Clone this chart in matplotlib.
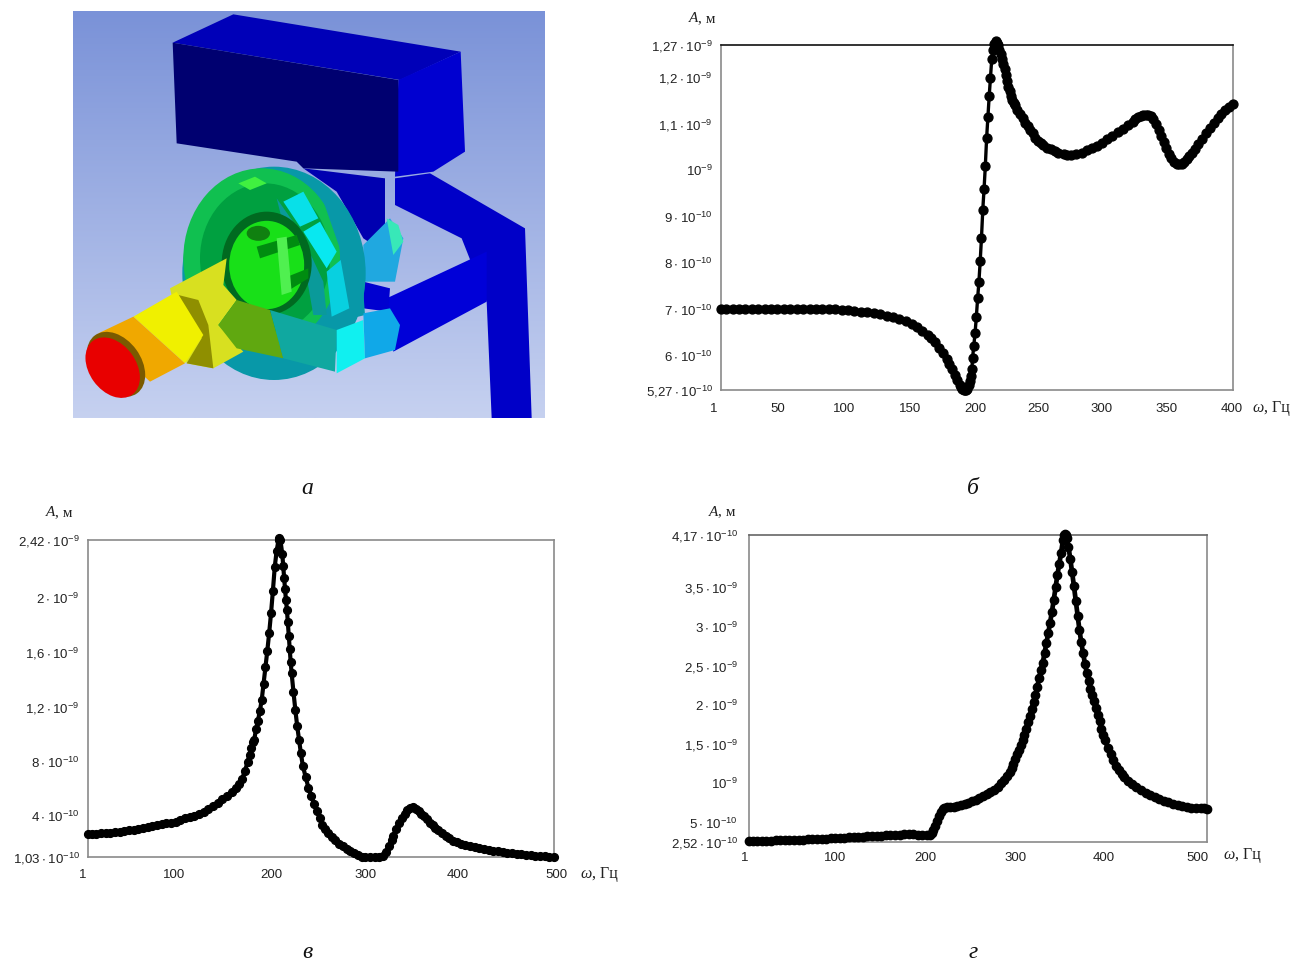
import numpy as np
import matplotlib
matplotlib.use("Agg")
import matplotlib.pyplot as plt
from matplotlib.patches import Polygon, Ellipse
from matplotlib.transforms import ScaledTranslation

plt.rcParams['font.family'] = ['Liberation Sans', 'DejaVu Sans']
plt.rcParams['mathtext.fontset'] = 'custom'
plt.rcParams['mathtext.rm'] = 'Liberation Sans'
plt.rcParams['mathtext.default'] = 'regular'

W, H = 1292, 961

# amplitude in units of 1e-10 m, frequency in Hz
x_b = [1,5,10,15,20,25,30,35,40,45,50,55,60,65,70,75,80,85,90,95,100,105,110,115,120,125,130,135,140,145,150,
       154,158,162,165,168,171,174,177,179,181,183,185,187,188,189,190,191,192,193,194,195,195.8,196.5,197,198,199,200,
       201,202,203,204,205,206,207,208,209,210,211,212,213,214,215,216,217,218,219,220,221,222,223,224,225,226,227,228,229,230,232,234,236,238,240,242,244,246,248,250,252,
       255,258,261,264,268,271,274,278,282,286,290,294,298,302,306,310,314,318,322,324,326,328,330,332,
       334,336,338,340,342,344,346,348,350,352,354,356,358,360,362,364,366,368,370,373,376,379,382,385,388,391,394,397,400]
y_b = [7.02,7.02,7.02,7.02,7.02,7.02,7.02,7.02,7.02,7.02,7.02,7.02,7.02,7.02,7.02,7.02,7.02,7.01,7.01,7.0,6.99,6.98,6.96,6.94,6.92,6.9,6.87,6.84,6.8,6.75,6.7,
       6.63,6.55,6.46,6.38,6.3,6.18,6.06,5.93,5.83,5.72,5.6,5.48,5.37,5.33,5.29,5.27,5.27,5.27,5.3,5.37,5.46,5.57,5.72,5.95,6.22,6.5,6.85,
       7.25,7.6,8.05,8.55,9.15,9.6,10.1,10.7,11.15,11.6,12.0,12.4,12.6,12.72,12.78,12.75,12.7,12.6,12.5,12.4,12.3,12.18,12.05,11.92,11.8,11.7,11.6,11.52,11.46,11.4,11.3,11.22,11.12,11.03,10.95,10.88,10.8,10.7,10.64,10.58,10.54,
       10.49,10.45,10.41,10.38,10.35,10.34,10.34,10.35,10.38,10.43,10.48,10.53,10.6,10.67,10.74,10.82,10.9,10.98,11.05,11.1,11.14,11.17,11.19,11.2,
       11.2,11.17,11.1,11.0,10.88,10.75,10.62,10.48,10.36,10.26,10.18,10.14,10.13,10.14,10.18,10.24,10.3,10.38,10.46,10.57,10.68,10.8,10.91,11.02,11.13,11.22,11.3,11.36,11.42]

x_v = [1,5,10,15,20,25,30,35,40,45,50,55,60,65,70,75,80,85,90,95,100,105,110,115,120,125,130,135,140,145,150,155,160,163,166,169,172,174,176,178,
       179,181,183,185,187,189,191,193,195,197,199,201,203,205,206,207,209,210,211,212,213,214,215,216,217,218,219,221,223,225,227,229,231,234,237,240,
       243,246,249,252,255,258,262,266,270,274,278,282,286,290,294,298,303,308,313,317,320,323,326,328,331,334,337,340,343,346,349,352,355,358,361,364,
       367,370,373,376,380,384,388,392,396,400,405,410,415,420,425,430,435,440,445,450,455,460,465,470,475,480,485,490,495,500]
y_v = [2.7,2.72,2.73,2.75,2.78,2.8,2.83,2.87,2.92,2.97,3.03,3.1,3.16,3.23,3.3,3.38,3.46,3.5,3.55,3.62,3.75,3.85,3.95,4.05,4.2,4.35,4.55,4.75,5.0,5.25,5.5,5.8,6.1,6.35,6.75,7.3,8.0,8.5,9.0,9.4,
       9.6,10.4,11.0,11.7,12.5,13.7,14.9,16.1,17.4,18.85,20.5,22.25,23.4,24.2,24.35,24.2,23.2,22.3,21.4,20.6,19.8,19.1,18.2,17.2,16.2,15.3,14.5,13.1,11.8,10.6,9.6,8.6,7.7,6.9,6.1,5.5,
       4.9,4.4,3.9,3.4,3.1,2.8,2.5,2.25,2.0,1.8,1.6,1.45,1.3,1.15,1.05,1.03,1.03,1.03,1.04,1.08,1.4,1.8,2.3,2.6,3.1,3.5,3.9,4.2,4.45,4.6,4.65,4.55,4.4,4.2,4.0,3.8,
       3.55,3.35,3.15,3.0,2.8,2.6,2.4,2.2,2.1,2.0,1.9,1.8,1.75,1.68,1.62,1.56,1.5,1.45,1.4,1.35,1.3,1.26,1.22,1.18,1.14,1.12,1.1,1.08,1.06,1.03]

x_g = [1,5,10,15,20,25,30,35,40,45,50,55,60,65,70,75,80,85,90,95,100,105,110,115,120,125,130,135,140,145,150,155,160,165,170,175,180,185,190,195,198,200,202,204,206,208,210,212,214,217,
       220,224,228,232,236,240,244,248,252,256,260,264,268,272,276,279,282,285,287,289,291,293,295,297,299,301,303,305,307,309,311,313,315,317,319,321,323,325,327,329,331,333,335,337,339,341,343,344,345,346,347,
       349,351,353,355,357,359,361,363,365,367,369,371,373,375,377,379,381,383,385,387,389,392,395,398,401,404,407,410,414,418,423,428,433,438,443,448,453,458,463,468,473,478,483,488,493,497,500]
y_g = [2.65,2.66,2.67,2.68,2.7,2.71,2.72,2.74,2.75,2.76,2.77,2.8,2.82,2.85,2.88,2.9,2.92,2.95,2.98,3.0,3.05,3.08,3.1,3.13,3.16,3.2,3.23,3.26,3.3,3.33,3.36,3.4,3.43,3.46,3.5,3.5,3.5,3.45,3.4,3.4,3.45,3.7,4.1,4.6,5.2,5.8,6.3,6.7,6.85,6.95,
       7.0,7.05,7.1,7.2,7.35,7.5,7.7,7.9,8.1,8.35,8.6,8.9,9.2,9.6,10.0,10.4,10.9,11.5,12.0,12.5,13.1,13.7,14.3,14.9,15.6,16.2,16.9,17.8,18.6,19.5,20.4,21.3,22.3,23.4,24.5,25.4,26.6,27.9,29.2,30.5,31.9,33.4,35.0,36.6,38.0,39.4,41.0,41.7,41.8,41.7,41.3,
       40.2,38.7,37.0,35.2,33.3,31.4,29.6,28.0,26.6,25.3,24.1,23.1,22.1,21.3,20.5,19.6,18.7,17.9,17.0,16.2,15.5,14.5,13.7,13.0,12.2,11.7,11.2,10.8,10.3,9.9,9.5,9.2,8.8,8.5,8.2,8.0,7.8,7.6,7.4,7.2,7.1,7.0,6.9,6.85,6.8,6.8,6.75]

xticks_b = [1, 50, 100, 150, 200, 250, 300, 350, 400]
yticks_b = [5.27, 6, 7, 8, 9, 10, 11, 12, 12.7]
ylabels_b = ['5,27 \\cdot 10^{-10}', '6 \\cdot 10^{-10}', '7 \\cdot 10^{-10}', '8 \\cdot 10^{-10}', '9 \\cdot 10^{-10}',
             '10^{-9}', '1,1 \\cdot 10^{-9}', '1,2 \\cdot 10^{-9}', '1,27 \\cdot 10^{-9}']
xshift_b = [-7, -6, -4, -2, -1, -2, -3, -2, -1]

xticks_v = [1, 100, 200, 300, 400, 500]
yticks_v = [1.03, 4, 8, 12, 16, 20, 24.2]
ylabels_v = ['1,03 \\cdot 10^{-10}', '4 \\cdot 10^{-10}', '8 \\cdot 10^{-10}', '1,2 \\cdot 10^{-9}',
             '1,6 \\cdot 10^{-9}', '2 \\cdot 10^{-9}', '2,42 \\cdot 10^{-9}']
xshift_v = [-5, -6, -2, -2, -3, 2]

xticks_g = [1, 100, 200, 300, 400, 500]
yticks_g = [2.52, 5, 10, 15, 20, 25, 30, 35, 41.7]
ylabels_g = ['2,52 \\cdot 10^{-10}', '5 \\cdot 10^{-10}', '10^{-9}', '1,5 \\cdot 10^{-9}', '2 \\cdot 10^{-9}',
             '2,5 \\cdot 10^{-9}', '3 \\cdot 10^{-9}', '3,5 \\cdot 10^{-9}', '4,17 \\cdot 10^{-10}']
xshift_g = [-4, -5, -6, -8, -11, -10]

fig = plt.figure(figsize=(W / 100, H / 100), dpi=100, facecolor='white')


def px_axes(left, top, right, bottom):
    return fig.add_axes([left / W, 1 - bottom / H, (right - left) / W, (bottom - top) / H])


def put_text(x, y, s, **kw):
    fig.text(x / W, 1 - y / H, s, **kw)


def draw_panel(box, x, y, xticks, yticks, ylabels, xshift, xmax, ms, lw, xpad, ypad, top_color, ylab_pos, xlab_pos):
    ax = px_axes(*box)
    ax.plot(x, y, color='black', lw=lw, marker='o', ms=ms, mec='black', mfc='black', clip_on=False, zorder=5)
    ax.set_xlim(1, xmax)
    ax.set_ylim(yticks[0], yticks[-1])
    ax.set_xticks(xticks)
    ax.set_yticks(yticks)
    ax.set_yticklabels(['$' + s.replace(',', '{,}') + '$' for s in ylabels])
    ax.tick_params(length=0, labelsize=9.5, labelcolor='#222222')
    ax.tick_params(axis='x', pad=xpad)
    ax.tick_params(axis='y', pad=ypad)
    for lab, dx in zip(ax.get_xticklabels(), xshift):
        lab.set_transform(lab.get_transform() + ScaledTranslation(dx / 100, 0, fig.dpi_scale_trans))
    for s in ax.spines.values():
        s.set_color('#8a8a8a')
        s.set_linewidth(1.2)
    ax.spines['top'].set_color(top_color)
    # axis captions: italic symbol, upright unit
    put_text(ylab_pos[0], ylab_pos[1], 'A', family='Liberation Serif', style='italic', fontsize=11, ha='right', va='center', color='#222222')
    put_text(ylab_pos[0], ylab_pos[1], ', м', family='Liberation Serif', fontsize=11, ha='left', va='center', color='#222222')
    put_text(xlab_pos[0], xlab_pos[1], 'ω', family='Liberation Serif', style='italic', fontsize=11.5, ha='right', va='center', color='#222222')
    put_text(xlab_pos[0], xlab_pos[1], ', Гц', family='Liberation Serif', fontsize=11.5, ha='left', va='center', color='#222222')
    return ax


def add_polys(ax, polys):
    for pts, col in polys:
        ax.add_patch(Polygon(pts, fc=col, ec='none'))


def draw_render():
    # picture panel, drawn in its own pixel-like frame
    ax = px_axes(73, 11, 545, 418)
    ax.imshow(np.linspace(0, 1, 256).reshape(-1, 1), extent=(9, 1425, 1239, 18), aspect='auto',
              cmap=matplotlib.colors.LinearSegmentedColormap.from_list('bg', ['#7a92d8', '#c6d1f0']))
    ax.set_xlim(9, 1425)
    ax.set_ylim(1239, 18)
    ax.axis('off')
    add_polys(ax, [
        ([(975, 520), (1080, 505), (1365, 670), (1385, 1239), (1265, 1239), (1250, 890), (1175, 700), (975, 600)], '#0000c8'),
        ([(1250, 740), (1250, 890), (970, 1040), (950, 880)], '#0000d8'),
        ([(308, 113), (490, 28), (1172, 140), (990, 225)], '#0000b8'),
        ([(985, 225), (1172, 140), (1185, 440), (1090, 500), (975, 515)], '#0000d0'),
        ([(308, 113), (985, 225), (985, 500), (700, 490), (680, 470), (320, 415)], '#000070'),
        ([(700, 490), (945, 520), (945, 680), (910, 720), (880, 700), (800, 560)], '#0000b0'),
        ([(880, 720), (960, 640), (1000, 700), (975, 830), (880, 830)], '#20a8e0'),
        ([(950, 640), (985, 660), (1000, 710), (970, 750)], '#38e8b8'),
        ([(880, 830), (960, 850), (955, 920), (880, 910)], '#0000d0'),
    ])
    # wheel: teal disc, green face, cyan teeth
    ax.add_patch(Ellipse((612, 805), 550, 640, fc='#0898a8', ec='none'))
    ax.add_patch(Ellipse((575, 760), 470, 540, fc='#10c050', ec='none'))
    ax.add_patch(Ellipse((585, 760), 390, 450, fc='#00a040', ec='none'))
    add_polys(ax, [
        ([(505, 535), (555, 515), (590, 535), (540, 555)], '#40f040'),
        ([(640, 590), (700, 560), (745, 640), (690, 665)], '#08e0e8'),
        ([(700, 680), (750, 650), (800, 740), (770, 790)], '#08e8f0'),
        ([(770, 800), (812, 765), (838, 910), (785, 935)], '#08d0e0'),
        ([(750, 560), (800, 640), (875, 790), (885, 930), (845, 940), (820, 760)], '#0898a8'),
        ([(620, 580), (690, 680), (760, 830), (770, 930), (730, 930), (700, 760), (640, 660)], '#0a9a9a'),
    ])
    ax.add_patch(Ellipse((590, 775), 270, 310, fc='#006a20', ec='none'))
    ax.add_patch(Ellipse((590, 780), 225, 265, fc='#18e018', ec='none'))
    ax.add_patch(Ellipse((565, 685), 70, 45, fc='#108010', ec='none'))
    add_polys(ax, [
        ([(560, 725), (680, 690), (690, 720), (570, 760)], '#008c10'),
        ([(640, 820), (715, 790), (715, 820), (650, 860)], '#008c10'),
        ([(620, 700), (650, 695), (665, 860), (635, 870)], '#50f050'),
    ])
    # shaft and elbow, colour bands from red to blue
    add_polys(ax, [
        ([(300, 850), (470, 760), (460, 840), (500, 885), (445, 960), (520, 1040), (430, 1090), (350, 1075)], '#d8e020'),
        ([(325, 870), (385, 885), (415, 960), (430, 1090), (350, 1075), (395, 1000)], '#8f8f00'),
        ([(190, 935), (320, 860), (400, 990), (345, 1075)], '#f0f000'),
        ([(85, 985), (190, 935), (345, 1075), (240, 1130)], '#f0a800'),
        ([(500, 885), (600, 915), (640, 1060), (500, 1030), (445, 960)], '#60a810'),
        ([(600, 915), (800, 975), (795, 1100), (640, 1060)], '#10a8a0'),
        ([(800, 975), (880, 945), (885, 1060), (800, 1105)], '#10f0f0'),
        ([(880, 925), (960, 910), (990, 960), (975, 1035), (885, 1060)], '#10a8e8'),
    ])
    ax.add_patch(Ellipse((138, 1078), 215, 150, angle=54, fc='#7a5a00', ec='none'))
    ax.add_patch(Ellipse((128, 1088), 200, 140, angle=54, fc='#e80000', ec='none'))


draw_render()
draw_panel((721, 45, 1233, 390), x_b, y_b, xticks_b, yticks_b, ylabels_b, xshift_b, 400, 6.4, 2.4, 9, 6, '#111111', (698, 19), (1264, 408))
draw_panel((88, 540, 554, 857), x_v, y_v, xticks_v, yticks_v, ylabels_v, xshift_v, 500, 5.6, 3.0, 9, 6, '#8a8a8a', (55, 513), (592, 874))
draw_panel((749, 535, 1207, 842), x_g, y_g, xticks_g, yticks_g, ylabels_g, xshift_g, 500, 6.0, 3.4, 7, 8, '#666666', (718, 512), (1235, 855))

for (px, py), s in zip([(307, 489), (973, 489), (307, 952), (973, 952)], ['а', 'б', 'в', 'г']):
    put_text(px, py, s, family='Liberation Serif', style='italic', fontsize=17, ha='center', va='center', color='#111111')

fig.savefig('out.png', dpi=100, facecolor='white')
